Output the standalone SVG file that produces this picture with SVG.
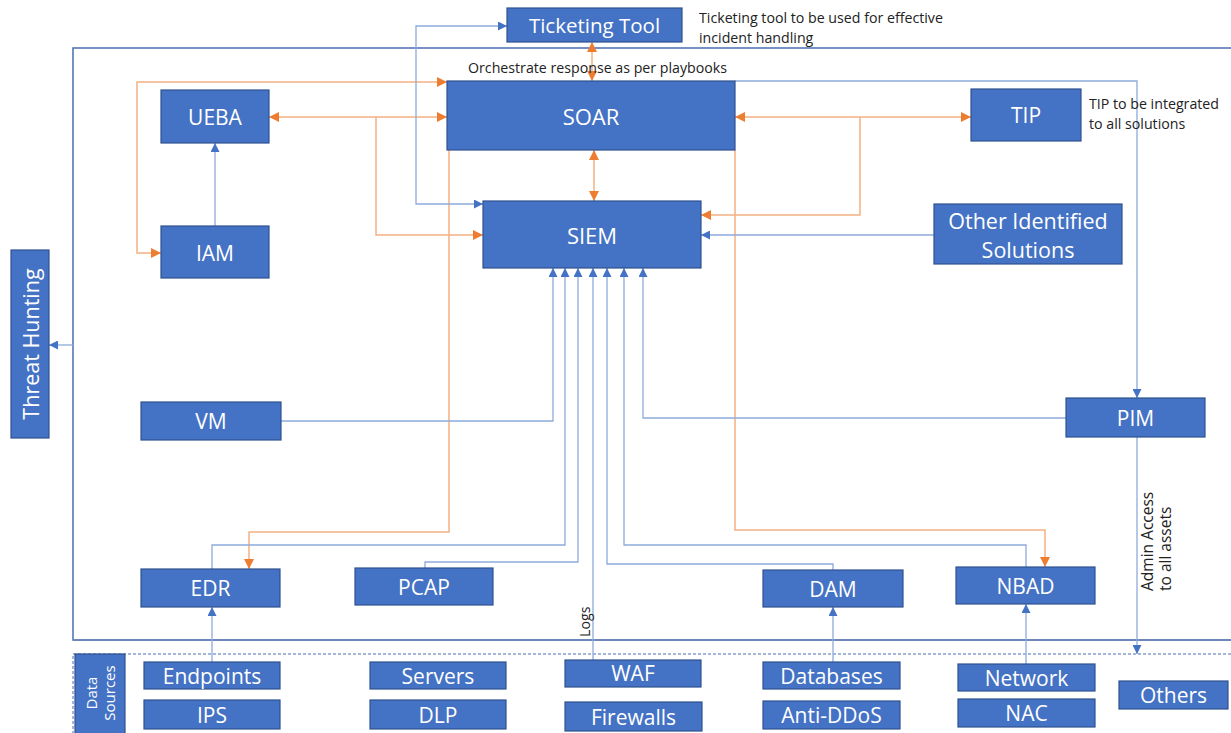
<svg xmlns="http://www.w3.org/2000/svg" width="1231" height="733" viewBox="0 0 1231 733">
<defs>
<style>
.box{fill:#4472C4;stroke:#2F528F;stroke-width:1.2}
.t{font-family:"Open Sans","Noto Sans","Liberation Sans",sans-serif;fill:#fff;text-anchor:middle;dominant-baseline:central}
.n{font-family:"Open Sans","Noto Sans","Liberation Sans",sans-serif;fill:#222;font-size:14.2px}
.b{fill:none;stroke:#8FAADC;stroke-width:1.3}
.o{fill:none;stroke:#F4B183;stroke-width:1.5}
</style>
<marker id="ab" viewBox="0 0 10 10" refX="10" refY="5" markerWidth="9" markerHeight="9" markerUnits="userSpaceOnUse" orient="auto-start-reverse"><path d="M0,0 L10,5 L0,10 z" fill="#4472C4"/></marker>
<marker id="ao" viewBox="0 0 10 10" refX="10" refY="5" markerWidth="10" markerHeight="10" markerUnits="userSpaceOnUse" orient="auto-start-reverse"><path d="M0,0 L10,5 L0,10 z" fill="#ED7D31"/></marker>
</defs>
<rect width="1231" height="733" fill="#fff"/>
<!-- frames -->
<rect x="73" y="48" width="1170" height="592" fill="none" stroke="#4A6FB0" stroke-width="1.5"/>
<line x1="73" y1="640" x2="1231" y2="640" stroke="#6A88B8" stroke-width="2"/>
<rect x="73" y="654" width="1170" height="90" fill="none" stroke="#4A6FB0" stroke-width="1" stroke-dasharray="3,2"/>

<g id="connectors">
<path class="o" d="M592,42 V81" marker-start="url(#ao)" marker-end="url(#ao)"/>
<path class="o" d="M594,150 V201" marker-start="url(#ao)" marker-end="url(#ao)"/>
<path class="o" d="M269,117 H447" marker-start="url(#ao)" marker-end="url(#ao)"/>
<path class="o" d="M376,117 V235 H483" marker-end="url(#ao)"/>
<path class="o" d="M161,253 H137 V82 H447" marker-start="url(#ao)" marker-end="url(#ao)"/>
<path class="o" d="M449,150 V532 H249 V569" marker-end="url(#ao)"/>
<path class="o" d="M735,150 V530 H1045 V567" marker-end="url(#ao)"/>
<path class="o" d="M735,117 H971" marker-start="url(#ao)" marker-end="url(#ao)"/>
<path class="o" d="M860,117 V215 H701" marker-end="url(#ao)"/>

<path class="b" d="M483,204 H416 V26 H507" marker-start="url(#ab)" marker-end="url(#ab)"/>
<path class="b" d="M215,226 V143" marker-end="url(#ab)"/>
<path class="b" d="M281,421 H553 V268" marker-end="url(#ab)"/>
<path class="b" d="M212,569 V545 H565 V268" marker-end="url(#ab)"/>
<path class="b" d="M425,568 V562 H578 V268" marker-end="url(#ab)"/>
<path class="b" d="M593,660 V268" marker-end="url(#ab)"/>
<path class="b" d="M833,570 V564 H607 V268" marker-end="url(#ab)"/>
<path class="b" d="M1026,567 V545 H624 V268" marker-end="url(#ab)"/>
<path class="b" d="M1066,418 H643 V268" marker-end="url(#ab)"/>
<path class="b" d="M735,81 H1137 V398" marker-end="url(#ab)"/>
<path class="b" d="M1137,437 V654" marker-end="url(#ab)"/>
<path class="b" d="M212,662 V607" marker-end="url(#ab)"/>
<path class="b" d="M833,662 V607" marker-end="url(#ab)"/>
<path class="b" d="M1026,664 V604" marker-end="url(#ab)"/>
<path class="b" d="M934,235 H701" marker-end="url(#ab)"/>
<path class="b" d="M73,345 H49" marker-end="url(#ab)"/>
</g>

<!-- annotations -->
<text class="n" x="699" y="23">Ticketing tool to be used for effective</text>
<text class="n" x="699" y="43">incident handling</text>
<text class="n" x="468" y="73">Orchestrate response as per playbooks</text>
<text class="n" x="1089" y="109">TIP to be integrated</text>
<text class="n" x="1089" y="129">to all solutions</text>
<text class="n" transform="translate(590,637) rotate(-90)">Logs</text>
<text class="n" style="font-size:15.5px" transform="translate(1153,591) rotate(-90)">Admin Access</text>
<text class="n" style="font-size:15.5px" transform="translate(1171,591) rotate(-90)">to all assets</text>

<g id="ticketing"><rect class="box" x="507" y="8" width="175" height="34"/><text class="t" x="594.5" y="25" font-size="20.5">Ticketing Tool</text></g>
<g id="soar"><rect class="box" x="447" y="81" width="288" height="69"/><text class="t" x="591" y="116" font-size="22">SOAR</text></g>
<g id="ueba"><rect class="box" x="161" y="90" width="108" height="53"/><text class="t" x="215" y="117" font-size="21">UEBA</text></g>
<g id="iam"><rect class="box" x="161" y="226" width="108" height="52"/><text class="t" x="215" y="253" font-size="21">IAM</text></g>
<g id="tip"><rect class="box" x="971" y="89" width="110" height="52"/><text class="t" x="1026" y="115" font-size="21">TIP</text></g>
<g id="siem"><rect class="box" x="483" y="201" width="218" height="67"/><text class="t" x="592" y="235" font-size="22">SIEM</text></g>
<g id="other"><rect class="box" x="934" y="204" width="188" height="60"/><text class="t" x="1028" y="220" font-size="21.5">Other Identified</text><text class="t" x="1028" y="249" font-size="21.5">Solutions</text></g>
<g id="threat"><rect class="box" x="11" y="250" width="38" height="188"/><text class="t" font-size="21.5" transform="translate(30,344) rotate(-90)">Threat Hunting</text></g>
<g id="vm"><rect class="box" x="141" y="402" width="140" height="38"/><text class="t" x="211" y="421" font-size="21">VM</text></g>
<g id="pim"><rect class="box" x="1066" y="398" width="139" height="39"/><text class="t" x="1135.5" y="418" font-size="21">PIM</text></g>
<g id="edr"><rect class="box" x="141" y="569" width="139" height="38"/><text class="t" x="210.5" y="588" font-size="21">EDR</text></g>
<g id="pcap"><rect class="box" x="355" y="568" width="138" height="37"/><text class="t" x="424" y="587" font-size="21">PCAP</text></g>
<g id="dam"><rect class="box" x="763" y="570" width="140" height="37"/><text class="t" x="833" y="589" font-size="21">DAM</text></g>
<g id="nbad"><rect class="box" x="956" y="567" width="139" height="37"/><text class="t" x="1025.5" y="586" font-size="21">NBAD</text></g>

<g id="datasources"><rect class="box" x="75" y="654" width="50" height="85"/><text class="t" font-size="15" transform="translate(91,693) rotate(-90)">Data</text><text class="t" font-size="15" transform="translate(109,693) rotate(-90)">Sources</text></g>
<g id="endpoints"><rect class="box" x="144" y="662" width="136" height="27"/><text class="t" x="212" y="676" font-size="21">Endpoints</text></g>
<g id="ips"><rect class="box" x="144" y="700" width="136" height="29"/><text class="t" x="212" y="715" font-size="21">IPS</text></g>
<g id="servers"><rect class="box" x="370" y="662" width="136" height="27"/><text class="t" x="438" y="676" font-size="21">Servers</text></g>
<g id="dlp"><rect class="box" x="370" y="700" width="136" height="29"/><text class="t" x="438" y="715" font-size="21">DLP</text></g>
<g id="waf"><rect class="box" x="565" y="660" width="136" height="27"/><text class="t" x="633" y="673" font-size="21">WAF</text></g>
<g id="firewalls"><rect class="box" x="565" y="702" width="137" height="29"/><text class="t" x="633.5" y="717" font-size="21">Firewalls</text></g>
<g id="databases"><rect class="box" x="763" y="662" width="137" height="27"/><text class="t" x="831.5" y="676" font-size="21">Databases</text></g>
<g id="antiddos"><rect class="box" x="763" y="701" width="137" height="28"/><text class="t" x="831.5" y="715" font-size="21">Anti-DDoS</text></g>
<g id="network"><rect class="box" x="958" y="664" width="137" height="27"/><text class="t" x="1026.5" y="678" font-size="21">Network</text></g>
<g id="nac"><rect class="box" x="958" y="699" width="137" height="28"/><text class="t" x="1026.5" y="713" font-size="21">NAC</text></g>
<g id="others"><rect class="box" x="1119" y="681" width="109" height="28"/><text class="t" x="1173.5" y="695" font-size="21">Others</text></g>
</svg>
